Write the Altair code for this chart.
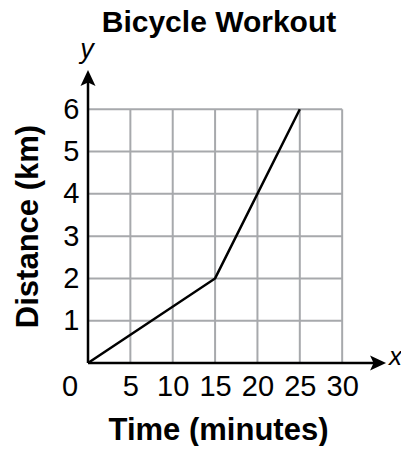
import altair as alt
import pandas as pd

# ---- data ----
times = [0, 15, 25]
distances = [0, 2, 6]
x_ticks = [5, 10, 15, 20, 25, 30]
y_ticks = [1, 2, 3, 4, 5, 6]
origin_label = ["0"]
title_text = ["Bicycle Workout"]

# ---- layout helpers (scale extents, arrow positions) ----
x_dom = [0, 36]
y_dom = [0, 7]
x_arrow = 34.0
y_arrow = 6.69

FONT = "Liberation Sans, Arial, sans-serif"
GRID = "#a7a9ac"

xs = alt.Scale(domain=x_dom, nice=False, zero=False)
ys = alt.Scale(domain=y_dom, nice=False, zero=False)

vgrid = pd.DataFrame({"x": x_ticks, "y": 0, "y2": y_ticks[-1]})
hgrid = pd.DataFrame({"y": y_ticks, "x": 0, "x2": x_ticks[-1]})
line_df = pd.DataFrame({"x": times, "y": distances})

x_axis = alt.Axis(
    values=x_ticks, title="Time (minutes)", domain=False, ticks=False, grid=False,
    labelFont=FONT, labelFontSize=29, labelColor="black", labelPadding=9,
    labelOverlap=False, labelFlush=False,
    titleFont=FONT, titleFontSize=31, titleFontWeight="bold", titleColor="black",
    titleX=130, titleY=76, titleBaseline="alphabetic",
)
y_axis = alt.Axis(
    values=y_ticks, title="Distance (km)", domain=False, ticks=False, grid=False,
    labelFont=FONT, labelFontSize=29, labelColor="black", labelPadding=9,
    labelOverlap=False, labelFlush=False,
    titleFont=FONT, titleFontSize=31, titleFontWeight="bold", titleColor="black",
    titleX=-51, titleY=159, titleAngle=-90, titleAlign="center", titleBaseline="alphabetic",
)

X = alt.X("x:Q", scale=xs, title="Time (minutes)")
Y = alt.Y("y:Q", scale=ys, title="Distance (km)")

v = alt.Chart(vgrid).mark_rule(color=GRID, strokeWidth=2).encode(
    x=alt.X("x:Q", scale=xs, axis=x_axis),
    y=alt.Y("y:Q", scale=ys, axis=y_axis),
    y2="y2:Q",
)
h = alt.Chart(hgrid).mark_rule(color=GRID, strokeWidth=2).encode(y=Y, x=X, x2="x2:Q")

yaxis_line = alt.Chart(pd.DataFrame({"x": [0], "y": [0], "y2": [y_arrow]})).mark_rule(
    color="black", strokeWidth=2.5
).encode(x=X, y=Y, y2="y2:Q")
xaxis_line = alt.Chart(pd.DataFrame({"y": [0], "x": [0], "x2": [x_arrow]})).mark_rule(
    color="black", strokeWidth=2.5
).encode(y=Y, x=X, x2="x2:Q")

up_head = alt.Chart(pd.DataFrame({"x": [0], "y": [y_arrow]})).mark_point(
    shape="M0,-1 L0.75,0.6 L0,0.25 L-0.75,0.6 Z", filled=True, color="black", opacity=1, size=400
).encode(x=X, y=Y)
right_head = alt.Chart(pd.DataFrame({"x": [x_arrow], "y": [0]})).mark_point(
    shape="M1,0 L-0.6,-0.75 L-0.25,0 L-0.6,0.75 Z", filled=True, color="black", opacity=1, size=400
).encode(x=X, y=Y)

line = alt.Chart(line_df).mark_line(color="black", strokeWidth=2.5).encode(x=X, y=Y)

zero = alt.Chart(pd.DataFrame({"x": [0], "y": [0], "t": origin_label})).mark_text(
    font=FONT, fontSize=29, color="black", dx=-18, dy=24, baseline="middle", align="center"
).encode(x=X, y=Y, text="t:N")

xlab = alt.Chart(pd.DataFrame({"x": [x_arrow], "y": [0], "t": ["x"]})).mark_text(
    font=FONT, fontSize=26, fontStyle="italic", color="black", dx=13, dy=2,
    baseline="alphabetic", align="left"
).encode(x=X, y=Y, text="t:N")
ylab = alt.Chart(pd.DataFrame({"x": [0], "y": [y_arrow], "t": ["y"]})).mark_text(
    font=FONT, fontSize=27, fontStyle="italic", color="black", dx=-1, dy=-22,
    baseline="alphabetic", align="center"
).encode(x=X, y=Y, text="t:N")

title = alt.Chart(pd.DataFrame({"t": title_text})).mark_text(
    font=FONT, fontSize=30, fontWeight="bold", color="black", baseline="alphabetic", align="center"
).encode(x=alt.value(131), y=alt.value(-35), text="t:N")

chart = alt.layer(v, h, yaxis_line, xaxis_line, up_head, right_head, line, zero, xlab, ylab, title).properties(
    width=305,
    height=296,
    padding={"left": 80, "top": 59, "right": 8, "bottom": 83},
    autosize=alt.AutoSizeParams(type="none"),
).configure_view(stroke=None)

chart.save("out.html", embed_options={"renderer": "svg", "actions": False})
